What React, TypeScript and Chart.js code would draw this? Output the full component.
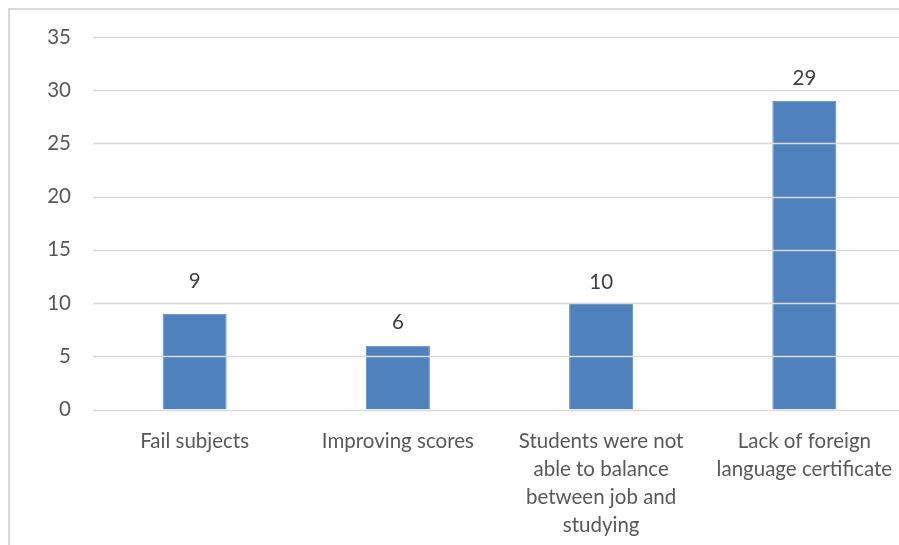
import React, { useEffect, useRef } from "react";
import { Chart, registerables } from "chart.js";

Chart.register(...registerables);

const categories: string[][] = [
  ["Fail subjects"],
  ["Improving scores"],
  ["Students were not", "able to balance", "between job and", "studying"],
  ["Lack of foreign", "language certificate"],
];
const counts: number[] = [9, 6, 10, 29];
const yMin = 0;
const yMax = 35;
const yStep = 5;

const FONT = "Lato, 'Open Sans', sans-serif";

const gridOnTop = {
  id: "gridOnTop",
  afterDatasetsDraw(chart: any) {
    const { ctx, chartArea, scales } = chart;
    const y = scales.y;
    ctx.save();
    ctx.strokeStyle = "#d9d9d9";
    ctx.lineWidth = 1.5;
    y.ticks.forEach((t: any) => {
      const py = Math.round(y.getPixelForValue(t.value)) + 0.5;
      ctx.beginPath();
      ctx.moveTo(chartArea.left, py);
      ctx.lineTo(chartArea.right, py);
      ctx.stroke();
    });
    ctx.restore();
  },
};

const valueLabels = {
  id: "valueLabels",
  afterDatasetsDraw(chart: any, _args: any, opts: any) {
    const { ctx } = chart;
    const meta = chart.getDatasetMeta(0);
    const lifts: number[] = opts.lifts || [];
    ctx.save();
    ctx.fillStyle = "#404040";
    ctx.font = `20.5px ${FONT}`;
    ctx.textAlign = "center";
    ctx.textBaseline = "middle";
    meta.data.forEach((bar: any, i: number) => {
      const v = chart.data.datasets[0].data[i];
      ctx.fillText(String(v), bar.x, bar.y - (lifts[i] ?? 24));
    });
    ctx.restore();
  },
};

export default function App() {
  const ref = useRef<HTMLCanvasElement | null>(null);
  useEffect(() => {
    const chart = new Chart(ref.current!, {
      type: "bar",
      data: {
        labels: categories,
        datasets: [
          {
            data: counts,
            backgroundColor: "#4f81bd",
            borderColor: "#5b8cc6",
            borderWidth: 1,
            categoryPercentage: 1,
            barPercentage: 0.315,
          },
        ],
      },
      plugins: [gridOnTop, valueLabels],
      options: {
        animation: false,
        responsive: false,
        maintainAspectRatio: false,
        layout: { padding: { top: 27, right: 14, left: 0, bottom: 0 } },
        plugins: {
          legend: { display: false },
          tooltip: { enabled: false },
          valueLabels: { lifts: [32, 23, 21, 22] },
        } as any,
        scales: {
          x: {
            grid: { display: false, drawTicks: false },
            border: { display: false },
            ticks: {
              color: "#595959",
              font: { family: FONT, size: 20.5, lineHeight: 1.36 },
              padding: 18,
              maxRotation: 0,
              autoSkip: false,
            },
            afterFit(scale: any) {
              scale.height = 135.5;
            },
          },
          y: {
            min: yMin,
            max: yMax,
            grid: { display: false, drawTicks: false },
            border: { display: false },
            ticks: {
              stepSize: yStep,
              color: "#595959",
              font: { family: FONT, size: 20.5 },
              padding: 22,
            },
            afterFit(scale: any) {
              scale.width = 83;
              scale.paddingTop = 0;
            },
          },
        },
      },
    });
    return () => chart.destroy();
  }, []);
  return (
    <div
      style={{
        position: "fixed",
        left: 8,
        top: 8,
        right: 0,
        bottom: 0,
        overflow: "hidden",
        borderLeft: "2px solid #d9d9d9",
        borderTop: "2px solid #d9d9d9",
        background: "#fff",
      }}
    >
      <canvas ref={ref} width={910} height={535} style={{ display: "block" }} />
    </div>
  );
}
